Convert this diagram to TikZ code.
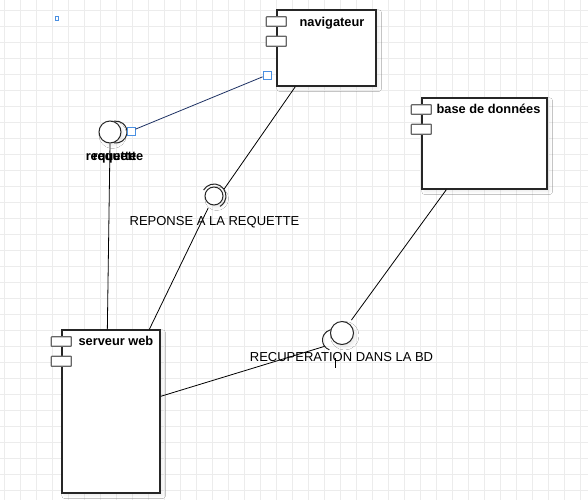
\documentclass[tikz,border=0pt]{standalone}
\usepackage{fontspec}
\setmainfont{Liberation Sans}
\usetikzlibrary{positioning, calc}
\usetikzlibrary{shadows.blur}
\definecolor{gridgray}{RGB}{236,236,236}
\definecolor{handleblue}{RGB}{74,144,226}
\definecolor{wirenavy}{RGB}{30,50,100}

\tikzset{
  comp/.style={draw=black!85, line width=1pt, fill=white, inner sep=0pt,
    blur shadow={shadow xshift=2pt, shadow yshift=-2pt, shadow opacity=7}},
  tab/.style={draw=black!60, line width=0.9pt, fill=white, rounded corners=0.4pt},
  lolli/.style={circle, draw=black!85, line width=0.75pt, fill=white, inner sep=0pt,
    blur shadow={shadow xshift=2pt, shadow yshift=-2pt, shadow opacity=8}},
  sock/.style={draw=black!85, line width=0.75pt},
  wire/.style={draw=black, line width=0.6pt},
  handle/.style={draw=handleblue, fill=white, line width=0.6pt, inner sep=0pt, minimum size=6pt},
  comptext/.style={font=\fontsize{9.6}{11}\selectfont\bfseries, inner sep=0pt},
  itftext/.style={font=\fontsize{9.75}{11}\selectfont, inner sep=0pt}
}

\begin{document}
\begin{tikzpicture}[x=0.75pt, y=-0.75pt]
  \def\u{0.75pt}

  % fond et grille
  \fill[white] (0,0) rectangle (588,500);
  \useasboundingbox (0,0) rectangle (588,500);
  \foreach \x in {4,20,...,580} \draw[gridgray, line width=0.75pt] (\x,0) -- (\x,500);
  \foreach \y in {10,26,...,490} \draw[gridgray, line width=0.75pt] (0,\y) -- (588,\y);

  % petit repere bleu
  \draw[handleblue, line width=0.6pt] (55,16) rectangle (58.5,20.5);

  % composants
  \node[comp, minimum width=99*\u, minimum height=76*\u] (nav) at (326.5,48) {};
  \node[comp, minimum width=125*\u, minimum height=91*\u] (bd) at (484.5,143.5) {};
  \node[comp, minimum width=98*\u, minimum height=163*\u] (web) at (111,411.5) {};
  \foreach \c in {nav,bd,web} {
    \draw[tab] ($(\c.north west)+(-10,7.5)$) rectangle ++(20,9.5);
    \draw[tab] ($(\c.north west)+(-10,27)$) rectangle ++(20,10);
  }
  \node[comptext, anchor=base west] (navlbl) at ($(nav.north west)+(23,17)$) {navigateur};
  \node[comptext, anchor=base west] (bdlbl) at ($(bd.north west)+(15,16)$) {base de données};
  \node[comptext, anchor=base west] (weblbl) at ($(web.north west)+(17,16.5)$) {serveur web};

  % interface requette
  \coordinate (reqc) at (116,132);
  \draw[sock] ($(reqc)+(100:11)$) arc[start angle=100, end angle=-100, radius=11];
  \node[lolli, minimum size=22*\u] (req) at (110,132) {};
  \node[comptext, anchor=base] (reqlbl) at (111,160) {requette};
  \node[comptext, anchor=base] (reqlblb) at (118,160) {requette};

  % interface reponse
  \coordinate (repc) at (214,196);
  \draw[sock] ($(repc)+(-150:12)$) arc[start angle=-150, end angle=60, radius=12];
  \node[lolli, minimum size=18*\u] (rep) at (repc) {};
  \node[itftext, anchor=base] (replbl) at (214.5,225) {REPONSE A LA REQUETTE};

  % interface recuperation
  \coordinate (recc) at (333,340);
  \draw[sock] ($(recc)+(-60:10.5)$) arc[start angle=-60, end angle=-250, radius=10.5];
  \node[lolli, minimum size=23*\u] (rec) at (342,333) {};
  \node[itftext, anchor=base] (reclbl) at (341.5,361.5) {RECUPERATION DANS LA BD};
  \draw[wire] ($(recc)+(2,18)$) -- ++(0,10);

  % poignees de selection
  \node[handle] (hnav) at (267,75) {};
  \node[handle] (hreq) at (131,131) {};

  % liaisons
  \draw[wire, draw=wirenavy] (hnav) -- (hreq);
  \draw[wire] (req.south) -- ($(web.north west)+(46,0)$);
  \draw[wire] ($(nav.south west)+(19,0)$) -- ($(repc)+(-34:12)$);
  \draw[wire, shorten >=3pt] ($(web.north west)+(88,0)$) -- (rep);
  \draw[wire, shorten >=3pt] ($(bd.south west)+(25,0)$) -- (rec);
  \draw[wire] ($(web.north east)+(0,67)$) -- ($(recc)+(-217:10.5)$);
\end{tikzpicture}
\end{document}
